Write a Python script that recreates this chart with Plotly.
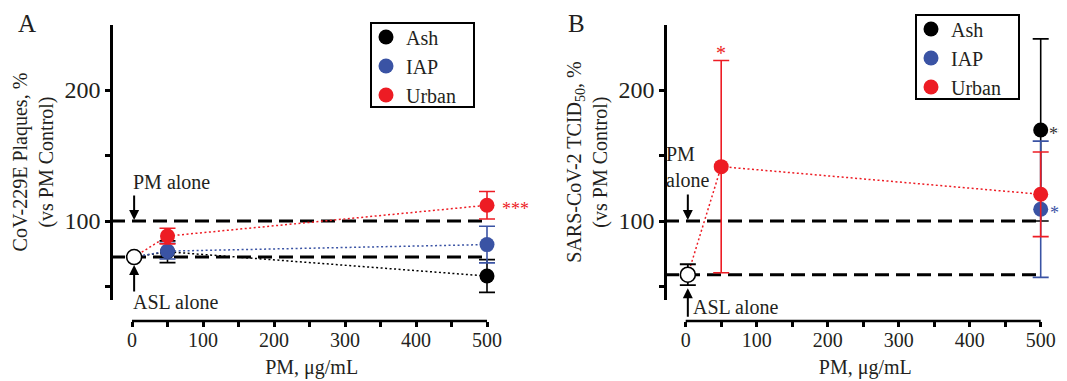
import plotly.graph_objects as go

W, H = 1067, 381

# ---------------- data ----------------
dose_ticks = [0, 100, 200, 300, 400, 500]
dose_minor = [50, 150, 250, 350, 450]
pct_ticks = [100, 200]
pct_minor = [50, 150]
series = ["Ash", "IAP", "Urban"]
asl_dose = 3          # ASL-alone control plotted next to 0

# Panel A  (CoV-229E plaques, % vs PM control)
a_doses = [50, 500]
a_ash = [76.5, 58]
a_ash_err = [8.3, 12.5]
a_iap = [77, 82]
a_iap_err = [6, 14]
a_urban = [88.5, 112]
a_urban_err = [6, 10.5]
a_asl = 72.5
a_pm = 100

# Panel B  (SARS-CoV-2 TCID50, % vs PM control)
b_ash_doses = [500]
b_ash = [169.5]
b_ash_err = [69.5]
b_iap_doses = [500]
b_iap = [109]
b_iap_err = [52]
b_urban_doses = [50, 500]
b_urban = [141.5, 120.4]
b_urban_err = [81, 32.3]
b_asl = 59
b_asl_err = 8
b_pm = 100

# ---------------- style ----------------
FONT = "Liberation Serif"
TXT = "#231f20"
RED = "#ed1c24"
BLUE = "#3a53a4"
BLACK = "#000000"
PXU = 0.71           # pixels per µg/mL on the x axes
XPAD = (-12, 18)     # extra x-range around 0..500 so error caps are not clipped
OFF = 8              # page (body) margin in front of the figure


def fx(px):
    return (px - OFF) / W


def fy(py):
    return 1 - (py - OFF) / H


fig = go.Figure()


def add_panel(xa, ya, leg, groups, asl, asl_err):
    for name, color, doses, vals, err, connect in groups:
        if connect:
            fig.add_trace(go.Scatter(
                x=[asl_dose] + doses, y=[asl] + vals, mode="lines",
                line=dict(color=color, width=1.5, dash="2px,2.5px"),
                showlegend=False, hoverinfo="skip", xaxis=xa, yaxis=ya))
    fig.add_trace(go.Scatter(
        x=[asl_dose], y=[asl], mode="markers",
        marker=dict(size=15, color="white", line=dict(color="black", width=1.6)),
        error_y=dict(type="data", array=[asl_err], color="black",
                     thickness=1.8, width=8, visible=asl_err > 0),
        showlegend=False, cliponaxis=False, xaxis=xa, yaxis=ya))
    for name, color, doses, vals, err, connect in groups:
        fig.add_trace(go.Scatter(
            x=doses, y=vals, mode="markers", name=name,
            marker=dict(size=15, color=color),
            error_y=dict(type="data", array=err, color=color,
                         thickness=1.6, width=8),
            cliponaxis=False, legend=leg, xaxis=xa, yaxis=ya))


add_panel("x", "y", "legend", [
    (series[0], BLACK, a_doses, a_ash, a_ash_err, True),
    (series[1], BLUE, a_doses, a_iap, a_iap_err, True),
    (series[2], RED, a_doses, a_urban, a_urban_err, True),
], a_asl, 0)

add_panel("x2", "y2", "legend2", [
    (series[0], BLACK, b_ash_doses, b_ash, b_ash_err, False),
    (series[1], BLUE, b_iap_doses, b_iap, b_iap_err, False),
    (series[2], RED, b_urban_doses, b_urban, b_urban_err, True),
], b_asl, b_asl_err)

# ---------------- axes ----------------
ydom = [fy(299.6), fy(24.5)]
xpos = fy(321)


def xaxis_cfg(zero_px):
    lo, hi = dose_ticks[0] + XPAD[0], dose_ticks[-1] + XPAD[1]
    return dict(
        domain=[fx(zero_px + lo * PXU), fx(zero_px + hi * PXU)], range=[lo, hi],
        anchor="free", position=xpos, automargin=False,
        showline=False,
        ticks="outside", ticklen=5, tickwidth=2.5, tickcolor="black",
        tickvals=dose_ticks, ticktext=[str(v) for v in dose_ticks],
        ticklabelstandoff=-4,
        minor=dict(tickvals=dose_minor, ticks="outside", ticklen=5,
                   tickwidth=2.5, tickcolor="black"),
        tickfont=dict(family=FONT, size=20, color=TXT),
        showgrid=False, zeroline=False,
        title=dict(text="PM, μg/mL", font=dict(family=FONT, size=20, color=TXT),
                   standoff=9),
    )


def yaxis_cfg(axis_px, title):
    return dict(
        domain=ydom, range=[40, 250],
        anchor="free", position=fx(axis_px), automargin=False,
        showline=True, linecolor="black", linewidth=2.5,
        ticks="outside", ticklen=5, tickwidth=2.5, tickcolor="black",
        tickvals=pct_ticks, ticktext=[str(v) for v in pct_ticks],
        minor=dict(tickvals=pct_minor, ticks="outside", ticklen=5,
                   tickwidth=2.5, tickcolor="black"),
        tickfont=dict(family=FONT, size=24, color=TXT),
        showgrid=False, zeroline=False,
        title=dict(text=title, font=dict(family=FONT, size=20, color=TXT),
                   standoff=4),
    )


fig.update_layout(
    xaxis=xaxis_cfg(132),
    yaxis=yaxis_cfg(111, "CoV-229E Plaques, %<br>(vs PM Control)"),
    xaxis2=xaxis_cfg(685.7),
    yaxis2=yaxis_cfg(665, "SARS-CoV-2 TCID<sub>50</sub>, %<br>(vs PM Control)"),
)

# x-axis lines spanning only the 0..500 range (detached axes)
for xr in ["x", "x2"]:
    fig.add_shape(type="line", xref=xr, yref="paper",
                  x0=dose_ticks[0], x1=dose_ticks[-1], y0=xpos, y1=xpos,
                  line=dict(color="black", width=2.5), layer="above")

# ---------------- reference dashed lines ----------------
for xr, yr, axis_px, zero_px, val in [
    ("x", "y", 111, 132, a_pm), ("x", "y", 111, 132, a_asl),
    ("x2", "y2", 665, 685.7, b_pm), ("x2", "y2", 665, 685.7, b_asl),
]:
    lo, hi = dose_ticks[0] + XPAD[0], dose_ticks[-1] + XPAD[1]
    span = (hi - lo) * PXU
    fig.add_shape(type="line", xref=xr + " domain", yref=yr,
                  x0=(axis_px - (zero_px + lo * PXU)) / span,
                  x1=(dose_ticks[-1] - lo) / (hi - lo), y0=val, y1=val,
                  line=dict(color="black", width=3, dash="14px,7px"),
                  layer="below")

# legend frames (the legends themselves are borderless and transparent)
for (l, t, r, b) in [(371, 23, 474, 107), (916, 15, 1019, 99)]:
    fig.add_shape(type="rect", xref="paper", yref="paper",
                  x0=fx(l), x1=fx(r), y0=fy(b), y1=fy(t),
                  line=dict(color="black", width=2), fillcolor="white",
                  layer="below")

# ---------------- annotations ----------------
ann_font = dict(family=FONT, size=20, color=TXT)
annos = [
    dict(xref="paper", yref="paper", x=fx(27), y=fy(23), text="A",
         xanchor="center", yanchor="middle",
         showarrow=False, font=dict(family=FONT, size=25, color=TXT)),
    dict(xref="paper", yref="paper", x=fx(576), y=fy(23), text="B",
         xanchor="center", yanchor="middle",
         showarrow=False, font=dict(family=FONT, size=25, color=TXT)),
    # panel A
    dict(xref="x", yref="y", x=asl_dose, y=a_pm, text="PM alone", showarrow=False,
         xanchor="left", yanchor="middle", xshift=-3, yshift=39, font=ann_font),
    dict(xref="x", yref="y", x=asl_dose, y=a_pm, text="", showarrow=True,
         ax=0, ay=-27, arrowhead=2, arrowsize=1, arrowwidth=2, arrowcolor="black",
         standoff=1),
    dict(xref="x", yref="y", x=asl_dose, y=a_asl, text="ASL alone", showarrow=False,
         xanchor="left", yanchor="middle", xshift=-3, yshift=-45, font=ann_font),
    dict(xref="x", yref="y", x=asl_dose, y=a_asl, text="", showarrow=True,
         ax=0, ay=36, arrowhead=2, arrowsize=1, arrowwidth=2, arrowcolor="black",
         standoff=8),
    dict(xref="x", yref="y", x=500, y=a_urban[1], text="***", showarrow=False,
         xanchor="left", yanchor="middle", xshift=13, yshift=-4,
         font=dict(family=FONT, size=18, color=RED)),
    # panel B
    dict(xref="x2", yref="y2", x=asl_dose, y=b_pm, text="PM<br>alone",
         showarrow=False, align="left", xanchor="left", yanchor="middle",
         xshift=-24, yshift=54, font=ann_font),
    dict(xref="x2", yref="y2", x=asl_dose, y=b_pm, text="", showarrow=True,
         ax=0, ay=-28, arrowhead=2, arrowsize=1, arrowwidth=2, arrowcolor="black",
         standoff=1),
    dict(xref="x2", yref="y2", x=asl_dose, y=b_asl, text="ASL alone",
         showarrow=False, xanchor="left", yanchor="middle", xshift=3, yshift=-32,
         font=ann_font),
    dict(xref="x2", yref="y2", x=asl_dose, y=b_asl - b_asl_err, text="",
         showarrow=True, ax=0, ay=33, arrowhead=2, arrowsize=1, arrowwidth=2,
         arrowcolor="black", standoff=3),
    dict(xref="x2", yref="y2", x=b_urban_doses[0], y=b_urban[0] + b_urban_err[0],
         text="*", showarrow=False, yanchor="bottom", yshift=-5,
         font=dict(family=FONT, size=20, color=RED)),
    dict(xref="x2", yref="y2", x=500, y=b_ash[0], text="**", showarrow=False,
         xanchor="left", yanchor="middle", xshift=6, yshift=-4,
         font=dict(family=FONT, size=18, color="#333333")),
    dict(xref="x2", yref="y2", x=500, y=b_iap[0], text="*", showarrow=False,
         xanchor="left", yanchor="middle", xshift=7, yshift=-4,
         font=dict(family=FONT, size=18, color=BLUE)),
]
fig.update_layout(annotations=annos)

leg_common = dict(
    xanchor="left", yanchor="top", bgcolor="rgba(0,0,0,0)", borderwidth=0,
    font=dict(family=FONT, size=20, color=TXT), tracegroupgap=0,
)
fig.update_layout(
    legend=dict(x=fx(366), y=fy(17.5), **leg_common),
    legend2=dict(x=fx(911), y=fy(9.5), **leg_common),
    width=W, height=H,
    margin=dict(l=0, r=0, t=0, b=0, autoexpand=False),
    paper_bgcolor="white", plot_bgcolor="white",
    showlegend=True,
)

fig.write_html("out.html")
